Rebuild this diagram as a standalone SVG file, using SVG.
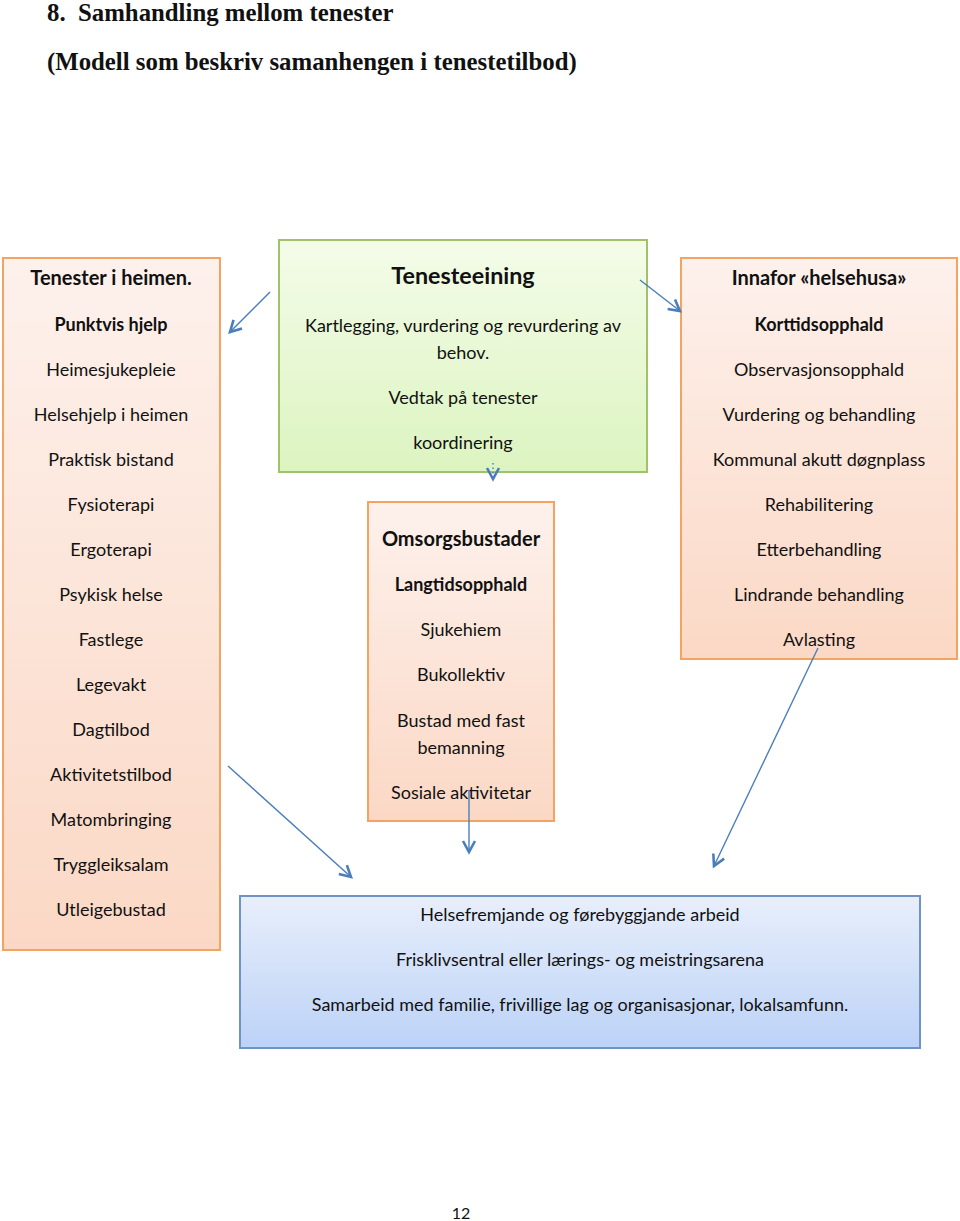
<svg xmlns="http://www.w3.org/2000/svg" width="960" height="1221" viewBox="0 0 960 1221">
<defs>
<linearGradient id="gPeach" x1="0" y1="0" x2="0" y2="1"><stop offset="0" stop-color="#fdf1ec"/><stop offset="1" stop-color="#fbd8c5"/></linearGradient>
<linearGradient id="gGreen" x1="0" y1="0" x2="0" y2="1"><stop offset="0" stop-color="#f4fce9"/><stop offset="1" stop-color="#dcf4c0"/></linearGradient>
<linearGradient id="gBlue" x1="0" y1="0" x2="0" y2="1"><stop offset="0" stop-color="#e8effb"/><stop offset="1" stop-color="#bcd2f7"/></linearGradient>
<marker id="arr" markerUnits="userSpaceOnUse" markerWidth="16" markerHeight="16" refX="12" refY="7" orient="auto" overflow="visible">
<path d="M1,1 L12,7 L1,13" fill="none" stroke="#4a7ebb" stroke-width="2.6"/>
</marker>
<style>
.t{font-family:Lato,"Noto Sans",sans-serif;font-size:18px;fill:#111;text-anchor:middle}
.b{font-weight:bold}
.h{font-family:Lato,"Noto Sans",sans-serif;font-size:20px;font-weight:bold;fill:#111;text-anchor:middle}
.title{font-family:"Liberation Serif",serif;font-size:24.8px;font-weight:bold;fill:#111}
.peach{fill:url(#gPeach);stroke:#f4a462;stroke-width:2}
.green{fill:url(#gGreen);stroke:#9fc26a;stroke-width:2}
.blue{fill:url(#gBlue);stroke:#6f94c4;stroke-width:2}
.c{stroke:#4a7ebb;stroke-width:1.4;fill:none;marker-end:url(#arr)}
</style>
</defs>
<rect width="960" height="1221" fill="#fff"/>
<text class="title" x="47" y="21">8.</text>
<text class="title" x="78" y="21">Samhandling mellom tenester</text>
<text class="title" x="47" y="70">(Modell som beskriv samanhengen i tenestetilbod)</text>

<g id="heimen">
<rect class="peach" x="3" y="258" width="217" height="692"/>
<text class="h" x="111" y="285">Tenester i heimen.</text>
<text class="t b" x="111" y="331">Punktvis hjelp</text>
<text class="t" x="111" y="376">Heimesjukepleie</text>
<text class="t" x="111" y="421">Helsehjelp i heimen</text>
<text class="t" x="111" y="466">Praktisk bistand</text>
<text class="t" x="111" y="511">Fysioterapi</text>
<text class="t" x="111" y="556">Ergoterapi</text>
<text class="t" x="111" y="601">Psykisk helse</text>
<text class="t" x="111" y="646">Fastlege</text>
<text class="t" x="111" y="691">Legevakt</text>
<text class="t" x="111" y="736">Dagtilbod</text>
<text class="t" x="111" y="781">Aktivitetstilbod</text>
<text class="t" x="111" y="826">Matombringing</text>
<text class="t" x="111" y="871">Tryggleiksalam</text>
<text class="t" x="111" y="916">Utleigebustad</text>
</g>

<g id="tenesteeining">
<rect class="green" x="279" y="240" width="368" height="232"/>
<text class="h" x="463" y="284" style="font-size:23.3px">Tenesteeining</text>
<text class="t" x="463" y="332">Kartlegging, vurdering og revurdering av</text>
<text class="t" x="463" y="359">behov.</text>
<text class="t" x="463" y="404">Vedtak på tenester</text>
<text class="t" x="463" y="449">koordinering</text>
</g>

<g id="helsehusa">
<rect class="peach" x="681" y="258" width="276" height="401"/>
<text class="h" x="819" y="285">Innafor «helsehusa»</text>
<text class="t b" x="819" y="331">Korttidsopphald</text>
<text class="t" x="819" y="376">Observasjonsopphald</text>
<text class="t" x="819" y="421">Vurdering og behandling</text>
<text class="t" x="819" y="466">Kommunal akutt døgnplass</text>
<text class="t" x="819" y="511">Rehabilitering</text>
<text class="t" x="819" y="556">Etterbehandling</text>
<text class="t" x="819" y="601">Lindrande behandling</text>
<text class="t" x="819" y="646">Avlasting</text>
</g>

<g id="omsorg">
<rect class="peach" x="368" y="502" width="186" height="319"/>
<text class="h" x="461" y="546">Omsorgsbustader</text>
<text class="t b" x="461" y="591">Langtidsopphald</text>
<text class="t" x="461" y="636">Sjukehiem</text>
<text class="t" x="461" y="681">Bukollektiv</text>
<text class="t" x="461" y="727">Bustad med fast</text>
<text class="t" x="461" y="754">bemanning</text>
<text class="t" x="461" y="799">Sosiale aktivitetar</text>
</g>

<g id="helsefremjande">
<rect class="blue" x="240" y="896" width="680" height="152"/>
<text class="t" x="580" y="921">Helsefremjande og førebyggjande arbeid</text>
<text class="t" x="580" y="966">Frisklivsentral eller lærings- og meistringsarena</text>
<text class="t" x="580" y="1011">Samarbeid med familie, frivillige lag og organisasjonar, lokalsamfunn.</text>
</g>

<g id="connectors">
<line class="c" x1="270" y1="292" x2="230" y2="332"/>
<line class="c" x1="640" y1="280" x2="680" y2="311"/>
<line class="c" x1="493" y1="463" x2="493" y2="479" stroke-dasharray="1.5 3"/>
<line class="c" x1="228" y1="766" x2="351" y2="877"/>
<line class="c" x1="469" y1="790" x2="469" y2="852"/>
<line class="c" x1="818" y1="648" x2="714" y2="866"/>
</g>

<text class="t" x="461" y="1219" style="font-size:16px">12</text>
</svg>
